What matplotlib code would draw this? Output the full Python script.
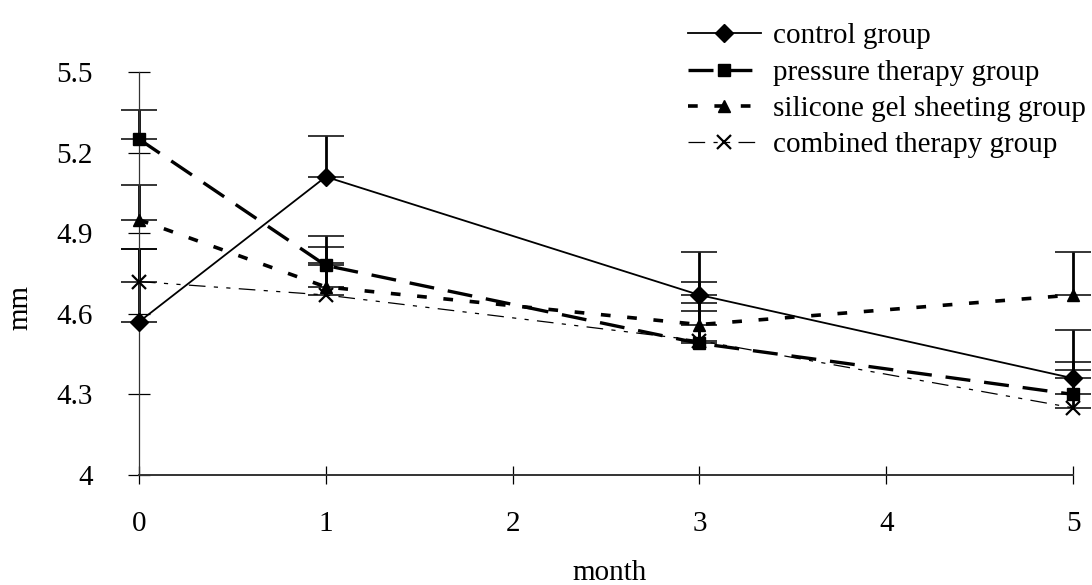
import matplotlib
matplotlib.use("Agg")
import matplotlib.pyplot as plt
import numpy as np

plt.rcParams['font.family'] = ['Liberation Serif', 'DejaVu Serif']
plt.rcParams['lines.scale_dashes'] = False

months = [0, 1, 3, 5]

control = [4.57, 5.11, 4.67, 4.36]
control_err = [0.27, 0.15, 0.16, 0.18]
pressure = [5.25, 4.78, 4.49, 4.30]
pressure_err = [0.11, 0.11, 0.23, 0.12]
silicone = [4.95, 4.70, 4.56, 4.67]
silicone_err = [0.13, 0.15, 0.08, 0.16]
combined = [4.72, 4.67, 4.50, 4.25]
combined_err = [0.12, 0.12, 0.11, 0.14]

labels = ['control group', 'pressure therapy group',
          'silicone gel sheeting group', 'combined therapy group']
xticks = [0, 1, 2, 3, 4, 5]
yticks = [4, 4.3, 4.6, 4.9, 5.2, 5.5]
ytick_labels = ['4', '4.3', '4.6', '4.9', '5.2', '5.5']

fig = plt.figure(figsize=(10.92, 5.85), dpi=100)
ax = fig.add_axes([139/1092, 110/585, (1073-139)/1092, (475-72)/585])

# (values, errors, marker, marker size, line width, dash pattern)
series = [
    (control, control_err, 'D', 9, 1.3, None),
    (pressure, pressure_err, 's', 8, 2.4, (0, (18, 10))),
    (silicone, silicone_err, '^', 9, 2.6, (0, (7, 12))),
    (combined, combined_err, 'x', 10, 0.9, (0, (12, 6, 3, 6, 3, 6))),
]

handles = []
for (vals, err, mk, ms, lw, dash), lab in zip(series, labels):
    vals = np.array(vals)
    yerr = [np.zeros(len(err)), np.array(err)]
    ax.errorbar(months, vals, yerr=yerr, fmt='none', ecolor='black',
                elinewidth=2.0, capsize=13, capthick=1.1, clip_on=False, zorder=2)
    ls = '-' if dash is None else dash
    line, = ax.plot(months, vals, color='black', lw=lw, linestyle=ls,
                    marker=mk, markersize=ms, markeredgewidth=1.6 if mk == 'x' else 1,
                    clip_on=False, label=lab, zorder=3)
    handles.append(line)

ax.set_xlim(0, 5)
ax.set_ylim(4, 5.5)
ax.set_xticks(xticks)
ax.set_xticklabels([str(v) for v in xticks])
ax.set_yticks(yticks)
ax.set_yticklabels(ytick_labels)

for s in ['top', 'right']:
    ax.spines[s].set_visible(False)
ax.spines['left'].set_linewidth(0.9)
ax.spines['left'].set_color('#333333')
ax.spines['bottom'].set_linewidth(1.4)
ax.spines['bottom'].set_color('#333333')

ax.tick_params(axis='y', direction='inout', length=16.5, width=0.9,
               pad=25, labelsize=21, colors='black')
ax.tick_params(axis='x', direction='inout', length=12.5, width=0.9,
               pad=19.5, labelsize=21, colors='black')

fig.text(20/1092, 1 - 308/585, 'mm', rotation=90, ha='center', va='center', fontsize=21)
fig.text(610/1092, 1 - 573/585, 'month', ha='center', va='center', fontsize=21)

ax.legend(handles=handles, loc='upper left', bbox_to_anchor=(688/1092, 1 - 23/585),
          bbox_transform=fig.transFigure, frameon=False, fontsize=21,
          handlelength=2.5, handletextpad=0.4, labelspacing=0.34,
          borderpad=0, borderaxespad=0, numpoints=1)

fig.savefig('out.png', dpi=100)
